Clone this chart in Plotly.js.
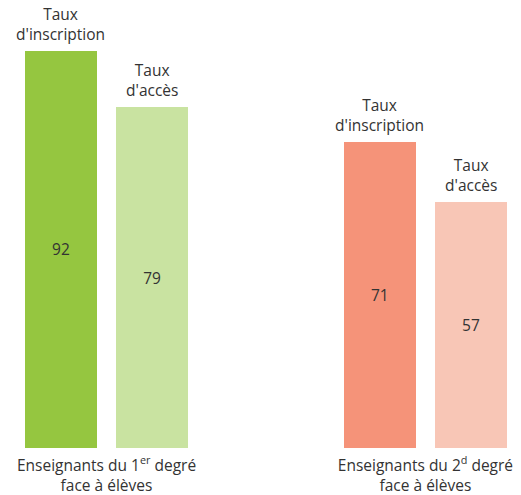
<!DOCTYPE html>
<html>
<head>
<meta charset="utf-8">
<script src="https://cdn.plot.ly/plotly-3.0.1.min.js"></script>
<style>html,body{margin:0;padding:0;background:#fff;}#chart{width:521px;height:495px;}</style>
</head>
<body>
<div id="chart"></div>
<script>
var groups = ["Enseignants du 1<sup>er</sup> degré<br>face à élèves", "Enseignants du 2<sup>d</sup> degré<br>face à élèves"];
var seriesLabels = ["Taux<br>d'inscription", "Taux<br>d'accès"];
var inscription = [92, 71];
var acces = [79, 57];

var xPos = [[0, 3.5], [1, 4.5]];
var colors = [["#95c640", "#f59379"], ["#c9e3a1", "#f8c6b6"]];
var vals = [inscription, acces];

var font = "'Open Sans', sans-serif";
var fs = 15.5;
var traces = [];
var annotations = [];
for (var s = 0; s < 2; s++) {
  traces.push({
    type: "bar",
    x: xPos[s],
    y: vals[s],
    width: 0.79,
    marker: {color: colors[s]},
    text: vals[s].map(String),
    textposition: "inside",
    insidetextanchor: "middle",
    textfont: {family: font, size: fs, color: "#333333"},
    hoverinfo: "none",
    showlegend: false
  });
  for (var g = 0; g < 2; g++) {
    annotations.push({
      x: xPos[s][g], y: vals[s][g], xref: "x", yref: "y",
      text: seriesLabels[s], showarrow: false,
      yanchor: "bottom", yshift: 4,
      font: {family: font, size: fs, color: "#333333"}
    });
  }
}

var layout = {
  width: 521, height: 495,
  margin: {l: 0, r: 0, t: 0, b: 47},
  paper_bgcolor: "#ffffff", plot_bgcolor: "#ffffff",
  xaxis: {range: [-0.669, 5.049], tickvals: [0.5, 4.0], ticktext: groups,
          showgrid: false, zeroline: false, showline: false, ticks: "",
          ticklabelstandoff: 6,
          tickfont: {family: font, size: fs, color: "#333333"}},
  yaxis: {range: [0, 103.8], visible: false, showgrid: false, zeroline: false},
  annotations: annotations,
  bargap: 0
};
Plotly.newPlot("chart", traces, layout, {displayModeBar: false, staticPlot: true});
</script>
</body>
</html>
